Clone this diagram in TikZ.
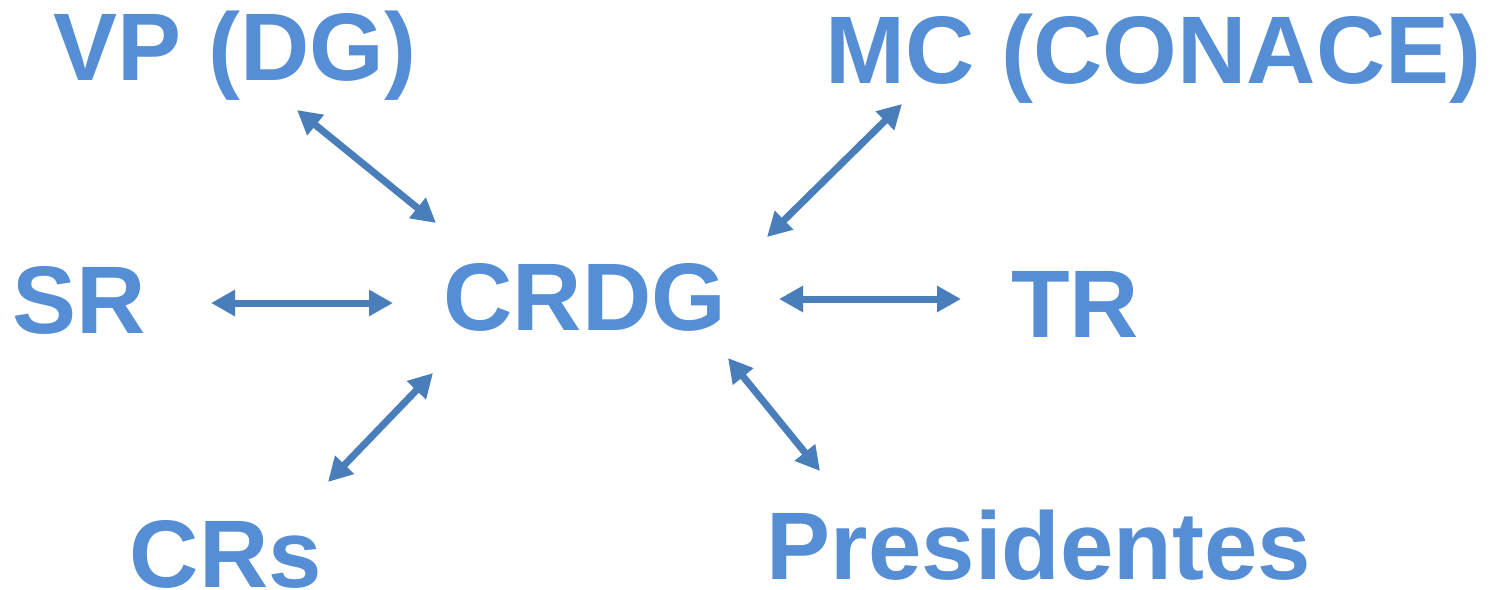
\documentclass[tikz,border=0pt]{standalone}
\usepackage{fontspec}
\setmainfont{Liberation Sans}
\usetikzlibrary{arrows.meta}
\definecolor{txtblue}{HTML}{558ED5}
\definecolor{arrblue}{HTML}{4A7EBB}
\tikzset{
  lbl/.style={anchor=base, inner sep=0pt, text=txtblue, font=\fontsize{96}{96}\selectfont\bfseries},
  link/.style={draw=arrblue, line width=7pt, {Triangle[length=24pt,width=25pt]}-{Triangle[length=24pt,width=25pt]}}
}
\begin{document}
\begin{tikzpicture}[x=1pt,y=-1pt]
\useasboundingbox (0,0) rectangle (1495,589);
\node[lbl] (vp) at (235,80) {VP (DG)};
\node[lbl] (mc) at (1153.5,83) {MC (CONACE)};
\node[lbl] (sr) at (79.5,333) {SR};
\node[lbl] (crdg) at (585,330) {CRDG};
\node[lbl] (tr) at (1075,337) {TR};
\node[lbl] (crs) at (226,587) {CRs};
\node[lbl] (pres) at (1039,579) {Presidentes};
\coordinate (vp-e) at (297,110);
\coordinate (crdg-vp) at (436,223);
\coordinate (mc-e) at (902,104);
\coordinate (crdg-mc) at (767,237);
\coordinate (sr-e) at (211,303);
\coordinate (crdg-sr) at (393,303);
\coordinate (crdg-tr) at (779,299);
\coordinate (tr-e) at (961,299);
\coordinate (crs-e) at (328,482);
\coordinate (crdg-crs) at (433,373);
\coordinate (crdg-pr) at (728,358);
\coordinate (pres-e) at (820,471);
\draw[link] (vp-e) -- (crdg-vp);
\draw[link] (mc-e) -- (crdg-mc);
\draw[link] (sr-e) -- (crdg-sr);
\draw[link] (crdg-tr) -- (tr-e);
\draw[link] (crs-e) -- (crdg-crs);
\draw[link] (crdg-pr) -- (pres-e);
\end{tikzpicture}
\end{document}
